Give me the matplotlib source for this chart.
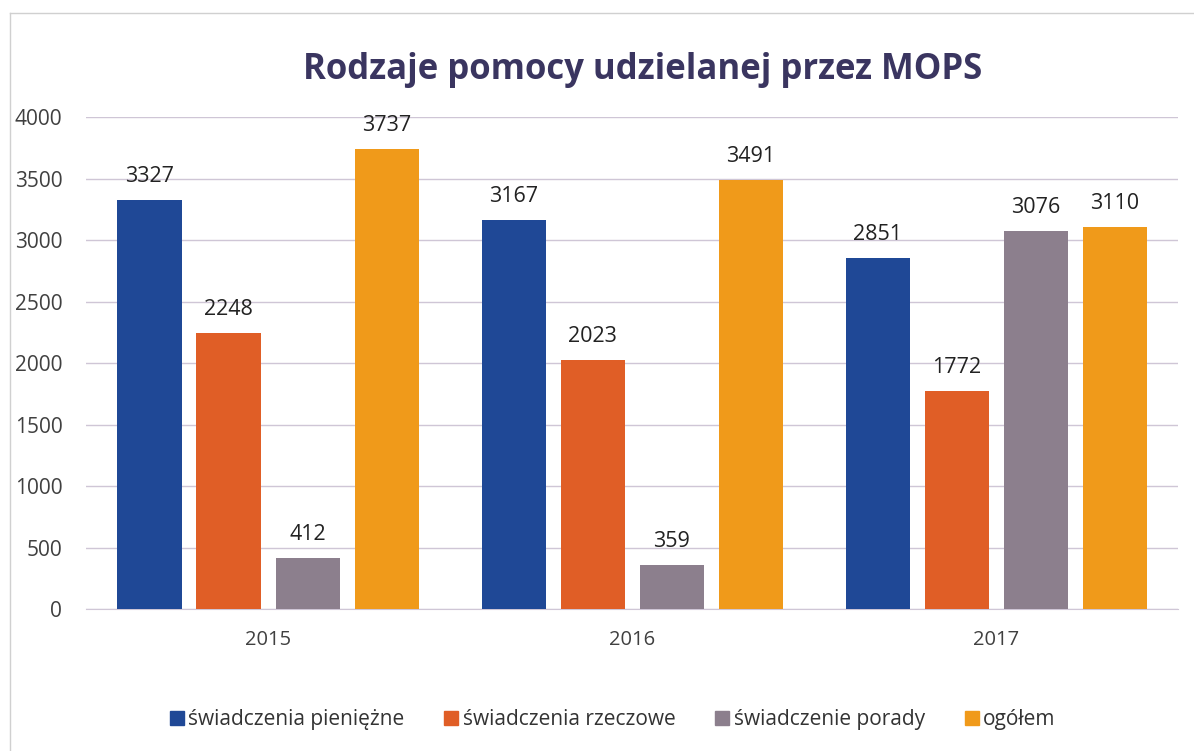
import matplotlib
matplotlib.use("Agg")
import matplotlib.pyplot as plt
import numpy as np
from matplotlib.lines import Line2D

YEARS = ["2015", "2016", "2017"]
SERIES = ["świadczenia pieniężne", "świadczenia rzeczowe",
          "świadczenie porady", "ogółem"]
PIENIEZNE = [3327, 3167, 2851]
RZECZOWE = [2248, 2023, 1772]
PORADY = [412, 359, 3076]
OGOLEM = [3737, 3491, 3110]
COLORS = ["#1f4896", "#e05e26", "#8c7f8d", "#f09a1a"]

plt.rcParams["font.family"] = ["Open Sans", "DejaVu Sans"]

fig = plt.figure(figsize=(11.94, 7.51), dpi=100)
ax = fig.add_axes([0.072, 0.189, 0.915, 0.655])

values = [PIENIEZNE, RZECZOWE, PORADY, OGOLEM]
x = np.arange(len(YEARS))
step, width = 0.217, 0.176
for i, (vals, name, col) in enumerate(zip(values, SERIES, COLORS)):
    pos = x + (i - 1.5) * step
    ax.bar(pos, vals, width=width, color=col, label=name, zorder=3)
    for px, v in zip(pos, vals):
        ax.annotate(f"{v}", (px, v), xytext=(0, 13), textcoords="offset points",
                    ha="center", va="baseline", fontsize=15.5, color="#222222")

ax.set_xlim(-0.5, 2.5)
ax.set_ylim(0, 4000)
ax.set_yticks(range(0, 4001, 500))
ax.set_xticks(x)
ax.set_xticklabels(YEARS)
ax.grid(axis="y", color="#cfc6d6", linewidth=1.0, zorder=0)
ax.tick_params(axis="y", length=0, pad=17, labelsize=15, labelcolor="#404040")
ax.tick_params(axis="x", length=0, pad=15, labelsize=14.5, labelcolor="#404040")
for sp in ("top", "right", "left"):
    ax.spines[sp].set_visible(False)
ax.spines["bottom"].set_color("#cfc6d6")

fig.text(0.538, 0.907, "Rodzaje pomocy udzielanej przez MOPS", ha="center",
         va="center", fontsize=25, fontweight="bold", color="#3a3560")

handles = [Line2D([], [], marker="s", linestyle="none", markersize=9.5,
                  markerfacecolor=c, markeredgecolor=c) for c in COLORS]
fig.legend(handles, SERIES, loc="center", bbox_to_anchor=(0.513, 0.042), ncol=4,
           frameon=False, fontsize=15, handletextpad=0.2, columnspacing=1.9,
           handlelength=0.7, labelcolor="#333333")

# outer frame of the chart area (left and top edges visible in the scan)
fig.add_artist(Line2D([10 / 1194, 10 / 1194], [0, 1 - 13 / 751],
                      transform=fig.transFigure, color="#d0d0d0", linewidth=1))
fig.add_artist(Line2D([10 / 1194, 1], [1 - 13 / 751, 1 - 13 / 751],
                      transform=fig.transFigure, color="#d0d0d0", linewidth=1))

fig.savefig("out.png", dpi=100)
